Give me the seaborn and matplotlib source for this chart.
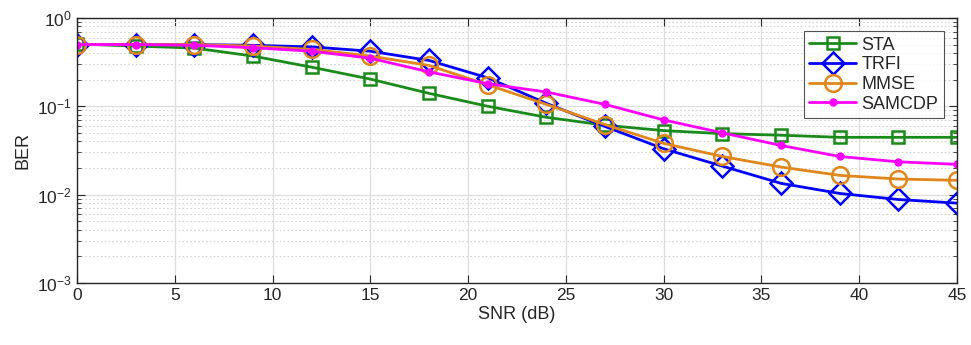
import numpy as np
import pandas as pd
import matplotlib
matplotlib.use("Agg")
import matplotlib.pyplot as plt
import seaborn as sns
from matplotlib.ticker import LogLocator, NullFormatter, MultipleLocator

snr = [0, 3, 6, 9, 12, 15, 18, 21, 24, 27, 30, 33, 36, 39, 42, 45]
sta = [0.507, 0.48, 0.456, 0.37, 0.277, 0.203, 0.14, 0.1, 0.075, 0.061, 0.053, 0.049, 0.047, 0.0445, 0.0445, 0.0445]
trfi = [0.5, 0.5, 0.5, 0.49, 0.47, 0.42, 0.33, 0.21, 0.108, 0.059, 0.033, 0.021, 0.0134, 0.0103, 0.0088, 0.008]
mmse = [0.5, 0.5, 0.5, 0.48, 0.44, 0.37, 0.29, 0.175, 0.105, 0.062, 0.038, 0.027, 0.0205, 0.0165, 0.015, 0.0145]
samcdp = [0.5, 0.5, 0.49, 0.46, 0.42, 0.35, 0.245, 0.18, 0.145, 0.105, 0.07, 0.05, 0.036, 0.027, 0.0235, 0.022]

names = ["STA", "TRFI", "MMSE", "SAMCDP"]
series = [sta, trfi, mmse, samcdp]
colors = ["#1a8a1a", "#0000ff", "#e0861a", "#ff00ff"]
markers = ["s", "D", "o", "o"]
msizes = [9, 11, 12, 5]
filled = [False, False, False, True]

sns.set_theme(style="white")
plt.rcParams['font.family'] = ['Liberation Sans', 'DejaVu Sans']

fig = plt.figure(figsize=(9.71, 3.45), dpi=100)
ax = fig.add_axes([0.0793, 0.180, 0.9063, 0.768])

for name, vals, c, m, ms, f in zip(names, series, colors, markers, msizes, filled):
    df = pd.DataFrame({"SNR": snr, "BER": vals})
    sns.lineplot(data=df, x="SNR", y="BER", ax=ax, color=c, linewidth=2,
                 marker=m, markersize=ms, markeredgewidth=1.8 if not f else 1,
                 markerfacecolor=(c if f else "none"), markeredgecolor=c,
                 label=name)

ax.set_yscale("log")
ax.set_xlim(0, 45)
ax.set_ylim(1e-3, 1)
ax.xaxis.set_major_locator(MultipleLocator(5))
ax.yaxis.set_major_locator(LogLocator(base=10, numticks=10))
ax.yaxis.set_minor_locator(LogLocator(base=10, subs=np.arange(2, 10), numticks=10))
ax.yaxis.set_minor_formatter(NullFormatter())

ax.grid(True, which="major", color="#dedede", linewidth=0.9, linestyle="-")
ax.grid(True, which="minor", axis="y", color="#d4d4d4", linewidth=0.8, linestyle=(0, (1.5, 2)))
ax.set_axisbelow(True)

ax.tick_params(which="both", direction="in", top=True, right=True, bottom=True, left=True,
               labelsize=12.5, colors="#262626")
ax.tick_params(which="major", length=6, width=0.8)
ax.tick_params(which="minor", length=3, width=0.6)
for s in ax.spines.values():
    s.set_color("#262626")
    s.set_linewidth(1.0)

ax.set_xlabel("SNR (dB)", fontsize=13, color="#262626", labelpad=2)
ax.set_ylabel("BER", fontsize=13, color="#262626", labelpad=4)

leg = ax.legend(loc="upper right", bbox_to_anchor=(0.985, 0.95), fontsize=13,
                frameon=True, fancybox=False, edgecolor="#262626", handlelength=2.6,
                borderpad=0.3, labelspacing=0.15, handletextpad=0.3, borderaxespad=0)
leg.get_frame().set_linewidth(0.8)

fig.savefig("out.png", dpi=100)
